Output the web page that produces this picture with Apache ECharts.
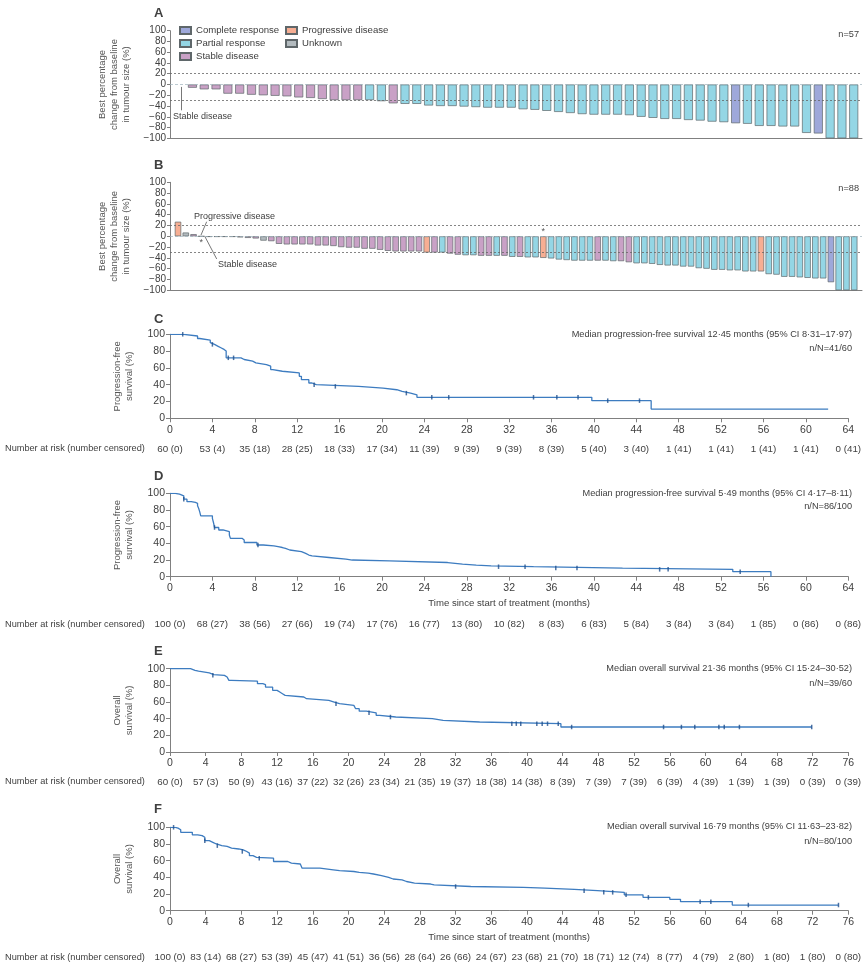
<!DOCTYPE html>
<html>
<head>
<meta charset="utf-8">
<title>Tumour response and survival</title>
<script src="https://cdn.jsdelivr.net/npm/echarts@6/dist/echarts.min.js"></script>
<style>
html,body{margin:0;padding:0;background:#fff;}
#main{width:865px;height:967px;}
</style>
</head>
<body>
<div id="main"></div>
<script>
// best % change, panel A (n=57), sorted as in the plot
var waterA = [-6,-9,-9,-17,-17,-19,-20,-21,-22,-24,
  -25,-27,-29,-29,-29,-29,-31,-35,-36,-36,
  -39,-40,-40,-41,-42,-43,-43,-43,-46,-47,
  -49,-51,-53,-55,-56,-56,-56,-57,-60,-62,
  -64,-64,-66,-67,-69,-70,-72,-73,-77,-77,
  -78,-78,-90,-91,-100,-100,-100];
var typeA = ['SD','SD','SD','SD','SD','SD','SD','SD','SD','SD',
  'SD','SD','SD','SD','SD','PR','PR','SD','PR','PR',
  'PR','PR','PR','PR','PR','PR','PR','PR','PR','PR',
  'PR','PR','PR','PR','PR','PR','PR','PR','PR','PR',
  'PR','PR','PR','PR','PR','PR','CR','PR','PR','PR',
  'PR','PR','PR','CR','PR','PR','PR'];

// panel B (n=88)
var waterB = [27,7,4,0,-1,-1,-1,-1,-2,-3,
  -4,-8,-9,-14,-15,-15,-15,-15,-17,-17,
  -18,-20,-21,-21,-23,-23,-25,-27,-28,-28,
  -28,-28,-30,-30,-30,-32,-34,-35,-35,-36,
  -36,-36,-36,-38,-38,-39,-39,-40,-41,-43,
  -44,-45,-45,-45,-45,-45,-46,-46,-48,-50,
  -50,-51,-53,-54,-54,-56,-56,-59,-60,-62,
  -62,-63,-63,-65,-65,-65,-70,-71,-75,-75,
  -76,-77,-78,-78,-85,-100,-100,-100];
var typeB = ['PD','UN','SD','SD','SD','SD','SD','SD','SD','SD',
  'SD','UN','SD','SD','SD','SD','SD','SD','SD','SD',
  'SD','SD','SD','SD','SD','SD','SD','SD','SD','SD',
  'SD','SD','PD','SD','PR','SD','SD','PR','PR','SD',
  'SD','PR','SD','PR','SD','PR','PR','PD','PR','PR',
  'PR','PR','PR','PR','SD','PR','PR','SD','SD','PR',
  'PR','PR','PR','PR','PR','PR','PR','PR','PR','PR',
  'PR','PR','PR','PR','PR','PD','PR','PR','PR','PR',
  'PR','PR','PR','PR','CR','PR','PR','PR'];

// Kaplan-Meier steps [month, %]
var pfsC = [[0,100],[1.3,98],[2.6,95],[2.8,93],[3.8,90],[3.9,88],[4.2,86],[4.5,84],[4.8,82],[5.1,80],
  [5.3,72],[6.7,70],[7.0,68],[7.8,66],[8.1,64],[9.1,62],[9.5,58],[9.7,56],[10.6,54],[12.2,50],
  [12.4,46],[13.1,42],[13.4,40],[13.8,38],[17.8,36],[20.1,34],[21.4,32],[21.9,30],[22.7,28],[23.3,25],
  [39.8,21],[45.4,11],[62.1,11]];
var censorC = [[1.2,100],[4.0,88],[5.5,72],[6.0,72],[13.6,40],[15.6,38],[22.3,30],[24.7,25],[26.3,25],
  [34.3,25],[36.5,25],[38.5,25],[41.3,21],[44.3,21]];
var riskC = ['60 (0)','53 (4)','35 (18)','28 (25)','18 (33)','17 (34)','11 (39)','9 (39)','9 (39)',
  '8 (39)','5 (40)','3 (40)','1 (41)','1 (41)','1 (41)','1 (41)','0 (41)'];

var pfsD = [[0,100],[0.5,99],[0.9,97],[1.3,93],[1.6,90],[2.0,89],[2.4,88],[2.6,85],[2.7,82],[2.8,78],
  [2.9,73],[4.0,70],[4.1,65],[4.2,59],[4.6,56],[5.0,54],[5.6,50],[5.7,46],[6.8,44],[7.0,41],
  [8.2,38],[8.8,37],[9.8,36],[10.2,35],[10.6,34],[10.9,32],[11.3,30],[12.4,28],[12.8,26],[13.1,25],
  [13.4,23],[15.0,21],[16.6,20],[17.2,19],[20.7,17],[26.2,15],[27.6,14],[28.9,13],[30.3,12],[34.3,10.4],
  [42.7,8.8],[53.1,6],[56.7,0]];
var censorD = [[1.3,93],[4.2,59],[8.3,38],[31.0,12],[33.5,12],[36.4,10.4],[38.4,10.4],[46.2,8.8],[47.0,8.8],[53.8,6]];
var riskD = ['100 (0)','68 (27)','38 (56)','27 (66)','19 (74)','17 (76)','16 (77)','13 (80)','10 (82)',
  '8 (83)','6 (83)','5 (84)','3 (84)','3 (84)','1 (85)','0 (86)','0 (86)'];

var osE = [[0,100],[2.3,98],[2.8,97],[3.2,95],[4.4,93],[4.9,92],[6.1,90],[6.4,88],[6.6,86],[6.9,85],
  [9.8,82],[10.4,81],[10.7,78],[11.5,74],[12.0,72],[12.3,70],[12.6,68],[12.9,66],[15.0,64],[15.3,62],
  [17.8,60],[18.4,58],[19.0,56],[20.6,54],[20.8,52],[21.2,49],[22.0,47],[23.1,44],[23.5,42],[25.3,40],
  [29.4,38],[30.6,36],[34.7,34],[43.8,30],[71.9,30]];
var censorE = [[4.8,92],[18.6,58],[22.3,47],[24.7,42],[38.3,34],[38.8,34],[39.3,34],[41.1,34],[41.7,34],
  [42.3,34],[43.5,34],[45.0,30],[55.3,30],[57.3,30],[58.8,30],[61.5,30],[62.1,30],[63.8,30],[71.9,30]];
var riskE = ['60 (0)','57 (3)','50 (9)','43 (16)','37 (22)','32 (26)','23 (34)','21 (35)','19 (37)','18 (38)',
  '14 (38)','8 (39)','7 (39)','7 (39)','6 (39)','4 (39)','1 (39)','1 (39)','0 (39)','0 (39)'];

var osF = [[0,100],[0.6,99],[0.9,97],[1.2,94],[2.5,91],[3.1,90],[3.6,88],[3.9,84],[4.4,82],[4.8,80],
  [5.2,78],[5.8,77],[6.4,75],[6.9,74],[7.7,73],[8.2,71],[8.6,69],[8.9,66],[9.3,64],[9.7,63],
  [11.6,59],[13.2,57],[13.6,56],[14.6,55],[14.8,51],[16.8,49],[18.3,48],[19.0,47],[20.6,46],[21.2,45],
  [22.2,44],[22.8,42],[23.7,40],[24.5,38],[25.0,37],[26.0,35],[26.5,33],[27.4,32],[29.2,31],[29.6,29],
  [33.7,28],[39.6,27],[42.0,25.6],[45.3,24],[47.9,22],[50.9,19],[53.0,16],[56.0,13.6],[57.2,10.8],[63.0,6.8],
  [74.9,6.8]];
var censorF = [[0.4,100],[3.9,84],[5.3,78],[8.1,71],[10.0,63],[32.0,29],[46.4,24],[48.6,22],[49.6,22],
  [51.1,19],[53.6,16],[59.4,10.8],[60.6,10.8],[64.8,6.8],[74.9,6.8]];
var riskF = ['100 (0)','83 (14)','68 (27)','53 (39)','45 (47)','41 (51)','36 (56)','28 (64)','26 (66)','24 (67)',
  '23 (68)','21 (70)','18 (71)','12 (74)','8 (77)','4 (79)','2 (80)','1 (80)','1 (80)','0 (80)'];

var typeCodes = ['CR','PR','SD','PD','UN'];
var typeNames = {CR:'Complete response', PR:'Partial response', SD:'Stable disease', PD:'Progressive disease', UN:'Unknown'};
var typeColors = {CR:'#9ea8da', PR:'#94d6e5', SD:'#c9a1c6', PD:'#f7ae93', UN:'#b3bbbf'};

var FONT = 'Liberation Sans, Arial, sans-serif';
var INK = '#404040';
var AXIS = '#808080';
var CURVE = '#3d7cc0';

var app = {
  chart: null,
  init: function(){
    app.chart = echarts.init(document.getElementById('main'), null, {renderer:'canvas'});
    app.chart.setOption({
      animation: false,
      backgroundColor: '#fff',
      textStyle: {fontFamily: FONT},
      title: app.texts(),
      legend: app.legends(),
      grid: app.grids(),
      xAxis: app.xAxes(),
      yAxis: app.yAxes(),
      series: app.series()
    });
  },
  grids: function(){
    var g = [
      {left:170, top:30.7, width:692, height:107.6},
      {left:170, top:182.3, width:692, height:108},
      {left:170, top:334.3, width:678.3, height:84},
      {left:170, top:493.3, width:678.3, height:83.4},
      {left:170, top:668.7, width:678.3, height:83.3},
      {left:170, top:827.3, width:678.3, height:83.4}
    ];
    g.forEach(function(o){ o.outerBoundsMode = 'none'; o.containLabel = false; });
    return g;
  },
  txt: function(text, pos, size, weight){
    var t = {text:text, padding:0, itemGap:0,
      textStyle:{fontSize:size || 9.2, fontWeight:weight || 'normal', color:INK, fontFamily:FONT}};
    for (var k in pos) t[k] = pos[k];
    return t;
  },
  texts: function(){
    var t = app.txt;
    return [
      t('A',{left:154, top:7},13,'bold'),
      t('B',{left:154, top:159},13,'bold'),
      t('C',{left:154, top:313},13,'bold'),
      t('D',{left:154, top:470},13,'bold'),
      t('E',{left:154, top:645},13,'bold'),
      t('F',{left:154, top:803},13,'bold'),
      t('n=57',{right:6, top:30}),
      t('n=88',{right:6, top:184}),
      t('Median progression-free survival 12·45 months (95% CI 8·31–17·97)',{right:13, top:330}),
      t('n/N=41/60',{right:13, top:344}),
      t('Median progression-free survival 5·49 months (95% CI 4·17–8·11)',{right:13, top:489}),
      t('n/N=86/100',{right:13, top:502}),
      t('Median overall survival 21·36 months (95% CI 15·24–30·52)',{right:13, top:664}),
      t('n/N=39/60',{right:13, top:679}),
      t('Median overall survival 16·79 months (95% CI 11·63–23·82)',{right:13, top:822}),
      t('n/N=80/100',{right:13, top:837}),
      t('Number at risk (number censored)',{left:5, top:444}),
      t('Number at risk (number censored)',{left:5, top:620}),
      t('Number at risk (number censored)',{left:5, top:777}),
      t('Number at risk (number censored)',{left:5, top:953}),
      t('Stable disease',{left:173, top:112},9),
      t('Progressive disease',{left:194, top:212},9),
      t('Stable disease',{left:218, top:260},9)
    ];
  },
  legends: function(){
    var base = function(names, left){
      return {data:names, orient:'vertical', left:left, top:25, padding:0,
        itemWidth:11, itemHeight:7, itemGap:2, icon:'rect', selectedMode:false,
        textStyle:{fontSize:9.6, lineHeight:11, color:INK, fontFamily:FONT}};
    };
    return [
      base(['Complete response','Partial response','Stable disease'], 179),
      base(['Progressive disease','Unknown'], 285)
    ];
  },
  pctAxis: function(idx, name){
    return {type:'value', gridIndex:idx, min:-100, max:100, interval:20,
      name:name, nameLocation:'middle', nameRotate:90, nameGap:35,
      nameTextStyle:{fontSize:9.5, lineHeight:12, color:'#555', fontFamily:FONT},
      axisLine:{show:true, onZero:false, lineStyle:{color:AXIS, width:1}},
      axisTick:{show:true, length:3, lineStyle:{color:AXIS}},
      axisLabel:{fontSize:10, color:INK, margin:4, fontFamily:FONT,
        formatter:function(v){ return v < 0 ? '\u2212' + Math.abs(v) : String(v); }},
      splitLine:{show:false}};
  },
  survAxis: function(idx, name){
    return {type:'value', gridIndex:idx, min:0, max:100, interval:20,
      name:name, nameLocation:'middle', nameRotate:90, nameGap:35,
      nameTextStyle:{fontSize:9.5, lineHeight:12, color:'#555', fontFamily:FONT},
      axisLine:{show:true, onZero:false, lineStyle:{color:AXIS, width:1}},
      axisTick:{show:true, length:4, lineStyle:{color:AXIS}},
      axisLabel:{fontSize:10.5, color:INK, margin:5, fontFamily:FONT},
      splitLine:{show:false}};
  },
  yAxes: function(){
    return [
      app.pctAxis(0, 'Best percentage\nchange from baseline\nin tumour size (%)'),
      app.pctAxis(1, 'Best percentage\nchange from baseline\nin tumour size (%)'),
      app.survAxis(2, 'Progression-free\nsurvival (%)'),
      app.survAxis(3, 'Progression-free\nsurvival (%)'),
      app.survAxis(4, 'Overall\nsurvival (%)'),
      app.survAxis(5, 'Overall\nsurvival (%)')
    ];
  },
  // patient index axis for the waterfall panels (hidden labels)
  indexAxis: function(idx, lo, hi){
    return {type:'value', gridIndex:idx, min:lo, max:hi,
      axisLine:{show:true, onZero:false, lineStyle:{color:AXIS, width:1}},
      axisTick:{show:false}, axisLabel:{show:false}, splitLine:{show:false}};
  },
  timeAxis: function(idx, max, named){
    var a = {type:'value', gridIndex:idx, min:0, max:max, interval:4,
      axisLine:{show:true, onZero:false, lineStyle:{color:AXIS, width:1}},
      axisTick:{show:true, length:4, lineStyle:{color:AXIS}},
      axisLabel:{fontSize:10.5, color:INK, margin:6, fontFamily:FONT},
      splitLine:{show:false}};
    if (named) {
      a.name = 'Time since start of treatment (months)';
      a.nameLocation = 'middle';
      a.nameGap = 22;
      a.nameTextStyle = {fontSize:9.6, color:INK, fontFamily:FONT};
    }
    return a;
  },
  riskAxis: function(idx, max, labels, offset){
    return {type:'value', gridIndex:idx, position:'bottom', offset:offset, min:0, max:max, interval:4,
      axisLine:{show:false}, axisTick:{show:false}, splitLine:{show:false},
      axisLabel:{fontSize:9.8, color:INK, margin:6, fontFamily:FONT,
        formatter:function(v){ return labels[Math.round(v / 4)]; }}};
  },
  xAxes: function(){
    return [
      app.indexAxis(0, -1.9, 56.7),
      app.indexAxis(1, -1.03, 88.0),
      app.timeAxis(2, 64, false), app.riskAxis(2, 64, riskC, 20),
      app.timeAxis(3, 64, true),  app.riskAxis(3, 64, riskD, 37),
      app.timeAxis(4, 76, false), app.riskAxis(4, 76, riskE, 19),
      app.timeAxis(5, 76, true),  app.riskAxis(5, 76, riskF, 36)
    ];
  },
  waterSeries: function(vals, types, xIdx, yIdx, barW){
    return typeCodes.map(function(code){
      var pts = [];
      vals.forEach(function(v, i){ if (types[i] === code) pts.push([i, v]); });
      return {name:typeNames[code], type:'bar', xAxisIndex:xIdx, yAxisIndex:yIdx,
        barWidth:barW, barGap:'-100%', data:pts,
        itemStyle:{color:typeColors[code], borderColor:'#5f676a', borderWidth:0.7}};
    });
  },
  refLines: function(extra){
    var dot = {type:[2,2], color:'#666', width:0.8};
    var lines = [
      {yAxis:20, lineStyle:dot},
      {yAxis:0, lineStyle:{type:[3,2], color:'#9fb3bd', width:0.7}},
      {yAxis:-30, lineStyle:dot}
    ];
    return {silent:true, symbol:['none','none'], label:{show:false},
      lineStyle:{color:'#555', width:0.8, type:'solid'}, data:lines.concat(extra)};
  },
  kmSeries: function(idx, steps, cens){
    return [
      {type:'line', xAxisIndex:2*idx-2, yAxisIndex:idx, data:steps, step:'end',
        symbol:'none', showSymbol:false, lineStyle:{color:CURVE, width:1.3}, z:3},
      {type:'scatter', xAxisIndex:2*idx-2, yAxisIndex:idx, data:cens,
        symbol:'rect', symbolSize:[1.5,4.5], itemStyle:{color:'#1f4f8c'}, z:4}
    ];
  },
  series: function(){
    var sa = app.waterSeries(waterA, typeA, 0, 0, 9);
    sa[1].markLine = app.refLines([
      [{coord:[-0.96,-4.5], lineStyle:{type:'solid', color:'#555'}}, {coord:[-0.96,-48]}]
    ]);
    var sb = app.waterSeries(waterB, typeB, 1, 1, 6.4);
    sb[1].markLine = app.refLines([
      [{coord:[3.69,27], lineStyle:{type:'solid', color:'#555'}}, {coord:[2.96,2.4]}],
      [{coord:[3.47,-0.7], lineStyle:{type:'solid', color:'#555'}}, {coord:[4.98,-42]}]
    ]);
    sb[2].markPoint = {silent:true, symbol:'rect', symbolSize:1,
      itemStyle:{color:'rgba(0,0,0,0)'},
      label:{show:true, formatter:'*', position:'inside', fontSize:9, color:'#555'},
      data:[{coord:[3,-11]}, {coord:[47,8]}]};
    return sa.concat(sb,
      app.kmSeries(2, pfsC, censorC),
      app.kmSeries(3, pfsD, censorD),
      app.kmSeries(4, osE, censorE),
      app.kmSeries(5, osF, censorF));
  }
};

app.init();
</script>
</body>
</html>
